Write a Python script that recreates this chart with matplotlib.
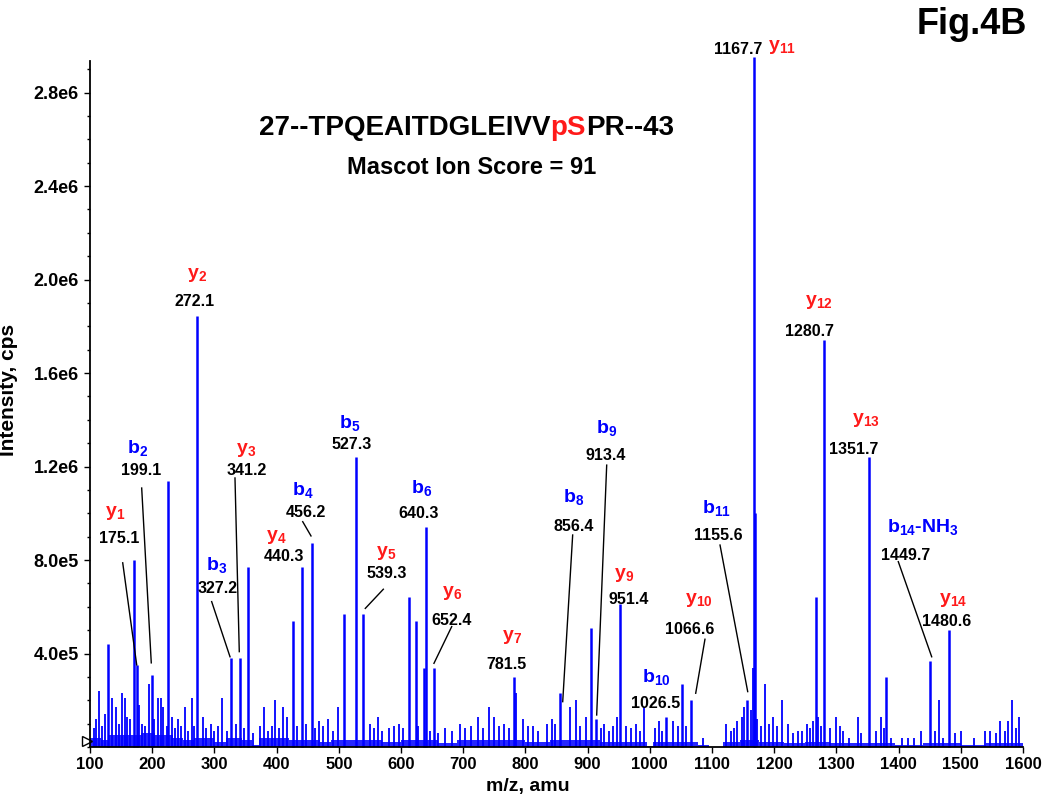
import numpy as np
import matplotlib
matplotlib.use("Agg")
import matplotlib.pyplot as plt
from matplotlib.ticker import FixedLocator, MultipleLocator

plt.rcParams['font.family'] = ['Liberation Sans', 'DejaVu Sans']
plt.rcParams['font.weight'] = 'bold'
plt.rcParams['mathtext.fontset'] = 'custom'
plt.rcParams['mathtext.rm'] = 'Liberation Sans:bold'
plt.rcParams['mathtext.bf'] = 'Liberation Sans:bold'
plt.rcParams['mathtext.it'] = 'Liberation Sans:bold'

BLUE = '#0000ff'
RED = '#ff1a1a'

# labelled / prominent fragment peaks (m/z, cps)
peak_mz = [128.5, 170.5, 175.1, 199.1, 225.5, 272.1, 327.2, 341.2, 354.5, 426.5,
           440.3, 456.2, 509.0, 527.3, 539.3, 613.0, 623.5, 637.0, 640.3, 652.4,
           781.5, 856.4, 905.0, 913.4, 951.4, 1026.5, 1051.0, 1066.6, 1155.6, 1167.7,
           1169.5, 1267.0, 1280.7, 1351.7, 1380.5, 1449.7, 1480.6]
peak_int = [0.44e6, 0.80e6, 0.35e6, 0.31e6, 1.14e6, 1.844e6, 0.38e6, 0.38e6, 0.77e6, 0.54e6,
            0.77e6, 0.873e6, 0.57e6, 1.24e6, 0.57e6, 0.64e6, 0.54e6, 0.34e6, 0.94e6, 0.34e6,
            0.30e6, 0.23e6, 0.51e6, 0.12e6, 0.61e6, 0.13e6, 0.27e6, 0.20e6, 0.20e6, 2.95e6,
            1.00e6, 0.64e6, 1.741e6, 1.24e6, 0.30e6, 0.37e6, 0.50e6]

# small spikes above the noise floor (m/z, 1e4 cps)
noise_mz = [106, 110, 114, 120, 124, 135, 142, 146, 151, 156, 160, 165, 178, 183, 188,
            195, 203, 209, 214, 218, 224, 232, 236, 241, 246, 253, 258, 264.5, 268, 282,
            287, 294.5, 300, 306, 311.7, 320, 334, 348, 362, 374, 379.7, 386, 392, 397, 404,
            410, 416, 432, 448, 462, 468, 475, 482, 490, 499, 550, 556, 562.5, 570, 580,
            588, 597, 604, 628, 646, 660, 670, 682, 695, 703, 712, 724, 732, 741.5, 750,
            758, 766, 774, 785, 796, 804, 812, 820, 834, 842, 848, 872, 881, 888, 897,
            922, 927, 934, 941, 947, 962, 970, 978, 985, 991, 1008, 1015, 1020, 1038, 1045,
            1059, 1086, 1122, 1131, 1136, 1140, 1148, 1152, 1162, 1166, 1172, 1178, 1186, 1192,
            1198, 1204, 1212, 1222, 1230, 1238, 1244, 1253, 1258, 1263, 1271, 1276, 1290, 1300,
            1305, 1311, 1320, 1335, 1340, 1364, 1371, 1376, 1387, 1405, 1415, 1425, 1436, 1458,
            1465, 1472, 1490, 1501, 1522, 1539, 1547, 1556, 1563, 1571, 1576, 1582, 1588, 1594]
noise_int = [8, 12, 24, 9, 14, 21, 17, 10, 23, 21, 13, 12, 18, 10, 9,
             27, 12, 21, 21, 17, 9, 13, 8, 12, 9, 17, 7, 21, 9, 13,
             8, 10, 7, 9, 21, 7, 10, 8, 6, 9, 17, 7, 9, 20, 8,
             17, 13, 9, 10, 8, 11, 9, 12, 7, 17, 10, 8, 13, 7, 8,
             9, 10, 8, 9, 7, 6, 8, 7, 10, 8, 9, 13, 8, 17, 13,
             9, 10, 8, 23, 12, 9, 9, 7, 10, 12, 10, 17, 20, 9, 13,
             8, 10, 7, 9, 13, 9, 8, 10, 7, 17, 8, 11, 7, 11, 9,
             9, 4, 10, 7, 8, 11, 13, 17, 16, 34, 12, 9, 27, 10,
             13, 9, 20, 10, 6, 7, 7, 10, 8, 11, 13, 9, 8, 13,
             9, 7, 4, 13, 6, 7, 13, 8, 4, 4, 4, 4, 7, 7,
             20, 4, 6, 7, 4, 7, 7, 6, 11, 7, 11, 20, 8, 13]

# dense noise floor (segment edges in m/z, level in 1e4 cps)
base_edges = [100, 118, 131, 150, 182, 205, 233, 250, 268, 300, 318, 345, 360, 372, 398,
              420, 470, 488, 505, 545, 570, 600, 628, 660, 690, 720, 760, 800, 840, 880,
              920, 960, 995, 1005, 1040, 1078, 1095, 1118, 1145, 1175, 1215, 1250, 1290,
              1330, 1360, 1395, 1440, 1470, 1500, 1540, 1570, 1600]
base_level = [4, 3, 5, 5, 6, 5, 4, 3, 4, 2, 4, 3, 1, 4, 4,
              3, 2, 3, 3, 3, 2, 3, 3, 1.5, 3, 3, 3, 2, 3, 3,
              2, 2, 0.5, 2, 2, 1, 0, 2, 3, 2, 1.5, 2, 1.5,
              1.5, 1.5, 0.8, 1.5, 1.5, 0.8, 1.5, 1.5]

# annotations
ion_text = [r'$\mathbf{y_{1}}$', r'$\mathbf{b_{2}}$', r'$\mathbf{y_{2}}$', r'$\mathbf{b_{3}}$',
            r'$\mathbf{y_{3}}$', r'$\mathbf{y_{4}}$', r'$\mathbf{b_{4}}$', r'$\mathbf{b_{5}}$',
            r'$\mathbf{y_{5}}$', r'$\mathbf{b_{6}}$', r'$\mathbf{y_{6}}$', r'$\mathbf{y_{7}}$',
            r'$\mathbf{b_{8}}$', r'$\mathbf{b_{9}}$', r'$\mathbf{y_{9}}$', r'$\mathbf{b_{10}}$',
            r'$\mathbf{y_{10}}$', r'$\mathbf{b_{11}}$', r'$\mathbf{y_{11}}$', r'$\mathbf{y_{12}}$',
            r'$\mathbf{y_{13}}$', r'$\mathbf{b_{14}}$-$\mathbf{NH_{3}}$', r'$\mathbf{y_{14}}$']
ion_mz = [140, 177, 271.5, 303.7, 350.8, 400.2, 442.0, 518, 575.9, 633.3, 681.5, 778,
          877, 930.7, 959, 1011, 1078, 1107.5, 1212, 1272.5, 1347.6, 1439.7, 1488]
ion_int = [1.00e6, 1.279e6, 2.019e6, 0.779e6, 1.271e6, 0.900e6, 1.10e6, 1.387e6, 0.830e6,
           1.108e6, 0.659e6, 0.472e6, 1.071e6, 1.365e6, 0.736e6, 0.301e6, 0.629e6, 1.021e6,
           2.996e6, 1.905e6, 1.399e6, 0.942e6, 0.629e6]
num_text = ['175.1', '199.1', '272.1', '327.2', '341.2', '440.3', '456.2', '527.3', '539.3',
            '640.3', '652.4', '781.5', '856.4', '913.4', '951.4', '1026.5', '1066.6', '1155.6',
            '1167.7', '1280.7', '1351.7', '1449.7', '1480.6']
num_mz = [147, 182, 268.8, 305.8, 352.4, 411.9, 447.3, 520.7, 577.0, 627.8, 681.5, 770,
          877, 929.6, 965.4, 1010, 1064.6, 1110.1, 1142.3, 1257.5, 1327.2, 1411.9, 1477.3]
num_int = [0.894e6, 1.181e6, 1.905e6, 0.676e6, 1.181e6, 0.813e6, 1.005e6, 1.296e6, 0.744e6,
           0.997e6, 0.543e6, 0.351e6, 0.942e6, 1.249e6, 0.632e6, 0.184e6, 0.504e6, 0.907e6,
           2.985e6, 1.777e6, 1.271e6, 0.821e6, 0.536e6]

# leader lines from label to peak
lead_x0 = [152.6, 183.1, 295.6, 333.1, 442.0, 571.6, 681.5, 876, 930.7, 1088.7, 1112.9, 1399.5]
lead_y0 = [0.788e6, 1.108e6, 0.622e6, 1.151e6, 0.964e6, 0.675e6, 0.515e6, 0.907e6, 1.206e6,
           0.461e6, 0.864e6, 0.793e6]
lead_x1 = [175.1, 198.5, 325.1, 340.0, 455.3, 542.6, 653.0, 860, 914.6, 1073.8, 1157.4, 1453.2]
lead_y1 = [0.351e6, 0.36e6, 0.386e6, 0.408e6, 0.903e6, 0.593e6, 0.358e6, 0.194e6, 0.137e6,
           0.230e6, 0.237e6, 0.386e6]

y_ticks = [4.0e5, 8.0e5, 1.2e6, 1.6e6, 2.0e6, 2.4e6, 2.8e6]
y_tick_labels = ['4.0e5', '8.0e5', '1.2e6', '1.6e6', '2.0e6', '2.4e6', '2.8e6']

fig = plt.figure(figsize=(10.5, 8), dpi=100)
ax = fig.add_axes([90 / 1050, 53 / 800, 933 / 1050, 686 / 800])

ax.stairs(np.array(base_level) * 1e4, base_edges, fill=True, color=BLUE, alpha=0.85, lw=0)
ax.vlines(noise_mz, 0, np.array(noise_int) * 1e4, color=BLUE, lw=1.3)
ax.vlines(peak_mz, 0, peak_int, color=BLUE, lw=1.8, clip_on=False)

for x0, y0, x1, y1 in zip(lead_x0, lead_y0, lead_x1, lead_y1):
    ax.plot([x0, x1], [y0, y1], color='black', lw=1.0)

for i in range(len(ion_text)):
    col = BLUE if 'b_' in ion_text[i] else RED
    ax.text(ion_mz[i], ion_int[i], ion_text[i], color=col, fontsize=14,
            fontweight='bold', ha='center', va='center', clip_on=False)
    ax.text(num_mz[i], num_int[i], num_text[i], color='black', fontsize=11.5,
            fontweight='bold', ha='center', va='center', clip_on=False)

ax.set_xlim(100, 1600)
ax.set_ylim(0, 2.935e6)
ax.spines['top'].set_visible(False)
ax.spines['right'].set_visible(False)
ax.spines['left'].set_linewidth(1.3)
ax.spines['bottom'].set_linewidth(1.3)

ax.xaxis.set_major_locator(MultipleLocator(100))
ax.yaxis.set_major_locator(FixedLocator(y_ticks))
ax.set_yticklabels(y_tick_labels)
ax.yaxis.set_minor_locator(MultipleLocator(1e5))
ax.tick_params(axis='x', labelsize=12, length=4, width=1, pad=3)
ax.tick_params(axis='y', which='major', labelsize=13, length=4, width=1, pad=4)
ax.tick_params(axis='y', which='minor', length=2.5, width=1)
for lab in ax.get_xticklabels() + ax.get_yticklabels():
    lab.set_fontweight('bold')

ax.set_xlabel('m/z, amu', fontsize=14, fontweight='bold')
ax.xaxis.set_label_coords(0.469, -0.045)
ax.set_ylabel('Intensity, cps', fontsize=15, fontweight='bold')
ax.yaxis.set_label_coords(-0.077, 0.52)

# origin marker
ax.plot([-0.003], [0.009], marker='>', ms=7, mfc='white', mec='black', mew=1,
        transform=ax.transAxes, clip_on=False)

# peptide title with red phospho-serine
mid = fig.text(568 / 1050, 1 - 128 / 800, 'pS', color=RED, fontsize=20,
               fontweight='bold', ha='center', va='center')
ax.annotate('27--TPQEAITDGLEIVV', xy=(0, 0), xycoords=mid, ha='right', va='bottom',
            fontsize=20, fontweight='bold', color='black')
ax.annotate('PR--43', xy=(1, 0), xycoords=mid, ha='left', va='bottom',
            fontsize=20, fontweight='bold', color='black')
fig.text(472 / 1050, 1 - 167 / 800, 'Mascot Ion Score = 91', fontsize=17,
         fontweight='bold', ha='center', va='center')
fig.text(972 / 1050, 1 - 24 / 800, 'Fig.4B', fontsize=26, fontweight='bold',
         ha='center', va='center')

fig.savefig('out.png', dpi=100)
